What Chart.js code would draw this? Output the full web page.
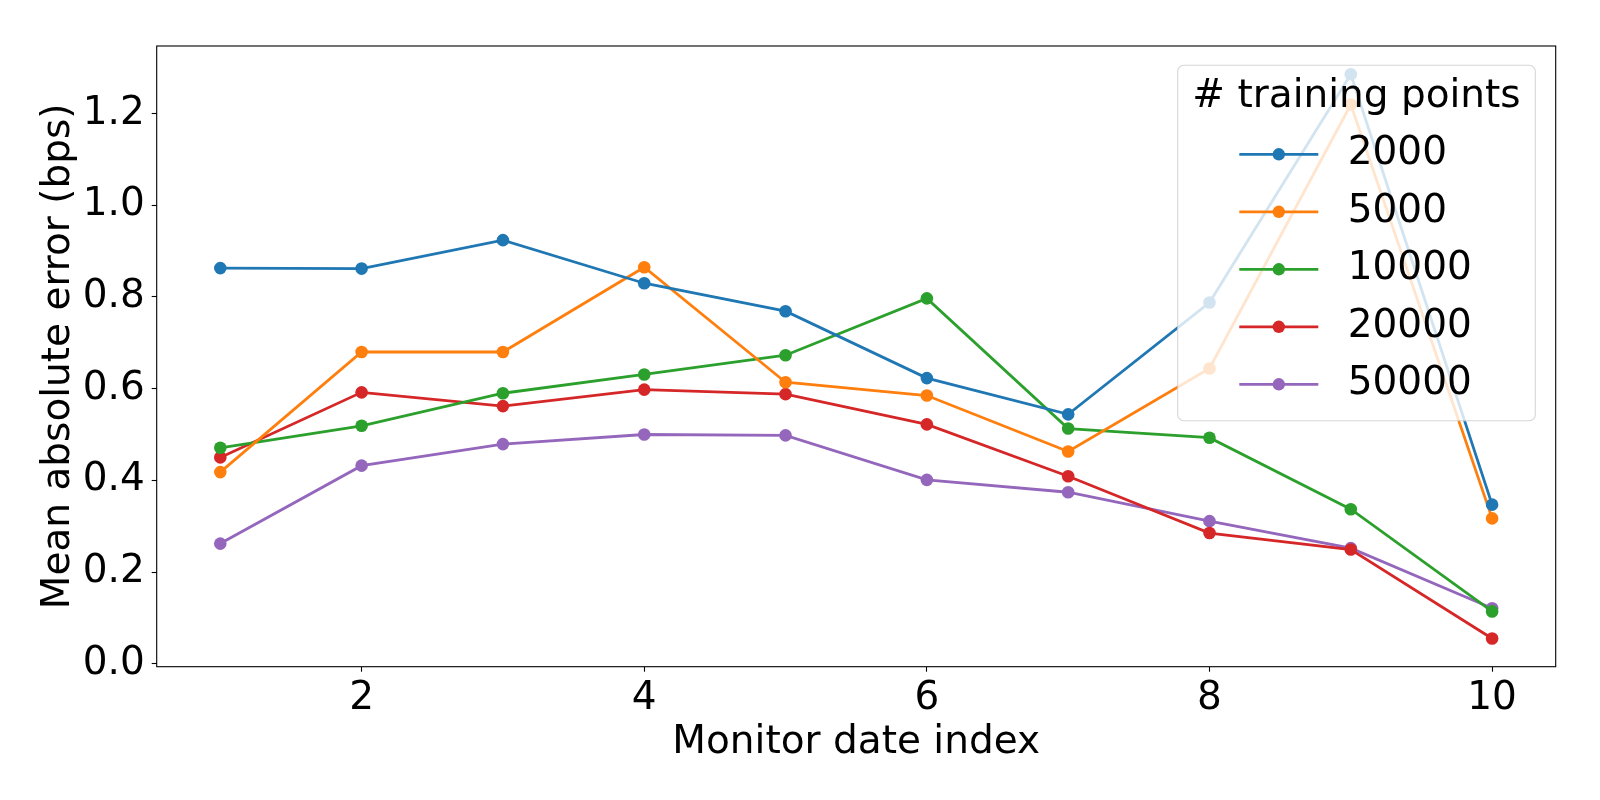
<!DOCTYPE html>
<html>
<head>
<meta charset="utf-8">
<script src="https://cdn.jsdelivr.net/npm/chart.js@4.4.1/dist/chart.umd.min.js"></script>
<style>
  html, body { margin: 0; padding: 0; background: #fff; }
  #wrap { width: 1600px; height: 800px; }
</style>
</head>
<body>
<div id="wrap"><canvas id="chart" width="1600" height="800"></canvas></div>
<script>
// data
const dateIndex = [1, 2, 3, 4, 5, 6, 7, 8, 9, 10];
const seriesNames = ["2000", "5000", "10000", "20000", "50000"];
const mae2000 = [0.863, 0.862, 0.924, 0.830, 0.769, 0.623, 0.544, 0.788, 1.286, 0.347];
const mae5000 = [0.418, 0.680, 0.680, 0.865, 0.614, 0.585, 0.463, 0.644, 1.220, 0.317];
const mae10000 = [0.471, 0.519, 0.590, 0.631, 0.673, 0.797, 0.513, 0.493, 0.337, 0.114];
const mae20000 = [0.450, 0.592, 0.562, 0.598, 0.588, 0.522, 0.409, 0.285, 0.249, 0.055];
const mae50000 = [0.262, 0.432, 0.479, 0.500, 0.498, 0.401, 0.374, 0.311, 0.252, 0.121];
const xTicks = [2, 4, 6, 8, 10];
const yTicks = [0.0, 0.2, 0.4, 0.6, 0.8, 1.0, 1.2];

const colors = ["#1f77b4", "#ff7f0e", "#2ca02c", "#d62728", "#9467bd"];
const allSeries = [mae2000, mae5000, mae10000, mae20000, mae50000];
const FONT = "DejaVu Sans";

const datasets = allSeries.map((vals, i) => ({
    label: seriesNames[i],
    data: vals.map((v, j) => ({ x: dateIndex[j], y: v })),
    borderColor: colors[i],
    backgroundColor: colors[i],
    borderWidth: 2.8,
    pointRadius: 6.3,
    pointBorderWidth: 0,
    pointHoverRadius: 6.3,
    tension: 0
}));

// box around the plot, like matplotlib spines
const frame = {
    id: "frame",
    afterDatasetsDraw(chart) {
        const a = chart.chartArea, c = chart.ctx;
        c.save();
        c.strokeStyle = "#000";
        c.lineWidth = 1.1;
        c.strokeRect(a.left, a.top, a.right - a.left, a.bottom - a.top);
        c.restore();
    }
};

// legend with a line + dot for each series, drawn over the lines
const lineLegend = {
    id: "lineLegend",
    afterDraw(chart) {
        const a = chart.chartArea, c = chart.ctx;
        const w = 357.6, h = 355.4;
        const x0 = a.right - 20.4 - w, y0 = a.top + 19.3;
        c.save();
        c.beginPath();
        c.roundRect(x0, y0, w, h, 6);
        c.fillStyle = "rgba(255,255,255,0.8)";
        c.fill();
        c.strokeStyle = "rgba(204,204,204,0.8)";
        c.lineWidth = 1.1;
        c.stroke();

        c.fillStyle = "#000";
        c.font = "39px '" + FONT + "'";
        c.textAlign = "center";
        c.textBaseline = "middle";
        c.fillText("# training points", x0 + w / 2, y0 + 32);

        c.textAlign = "left";
        chart.data.datasets.forEach((ds, i) => {
            const y = y0 + 89 + i * 57.5;
            const lx = x0 + 61.6;
            c.strokeStyle = ds.borderColor;
            c.lineWidth = 2.8;
            c.beginPath();
            c.moveTo(lx, y);
            c.lineTo(lx + 79, y);
            c.stroke();
            c.fillStyle = ds.borderColor;
            c.beginPath();
            c.arc(lx + 39.5, y, 6.2, 0, Math.PI * 2);
            c.fill();
            c.fillStyle = "#000";
            c.fillText(ds.label, x0 + 170, y);
        });
        c.restore();
    }
};

new Chart(document.getElementById("chart"), {
    type: "line",
    data: { datasets },
    plugins: [frame, lineLegend],
    options: {
        responsive: false,
        animation: false,
        devicePixelRatio: 1,
        layout: { padding: { left: 0, right: 44.3, top: 46, bottom: 0 } },
        plugins: { legend: { display: false }, tooltip: { enabled: false } },
        scales: {
            x: {
                type: "linear",
                min: 0.55,
                max: 10.45,
                afterFit: (s) => { s.height = 133.3; },
                afterBuildTicks: (s) => { s.ticks = xTicks.map(v => ({ value: v })); },
                grid: { drawOnChartArea: false, drawTicks: true, tickLength: 5, tickColor: "#000", tickWidth: 1.1 },
                border: { display: false },
                ticks: { color: "#000", font: { family: FONT, size: 39 }, padding: 4, maxRotation: 0, autoSkip: false,
                         callback: (v) => String(v) },
                title: { display: true, text: "Monitor date index", color: "#000",
                         font: { family: FONT, size: 39 }, padding: { top: 0, bottom: 34 } }
            },
            y: {
                min: -0.0066,
                max: 1.3476,
                afterFit: (s) => { s.width = 156.7; },
                afterBuildTicks: (s) => { s.ticks = yTicks.map(v => ({ value: v })); },
                grid: { drawOnChartArea: false, drawTicks: true, tickLength: 5, tickColor: "#000", tickWidth: 1.1 },
                border: { display: false },
                ticks: { color: "#000", font: { family: FONT, size: 39 }, padding: 7,
                         callback: (v) => Number(v).toFixed(1) },
                title: { display: true, text: "Mean absolute error (bps)", color: "#000",
                         font: { family: FONT, size: 39 }, padding: { top: 35, bottom: 0 } }
            }
        }
    }
});
</script>
</body>
</html>
